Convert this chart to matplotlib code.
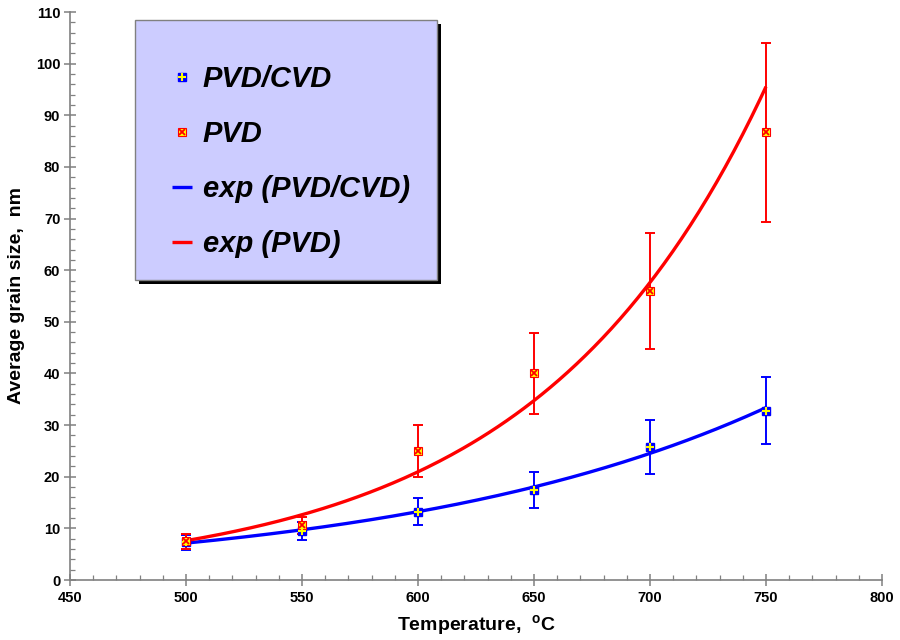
import numpy as np
import matplotlib
matplotlib.use("Agg")
import matplotlib.pyplot as plt
from matplotlib.patches import Rectangle

plt.rcParams['font.family'] = ['Liberation Sans', 'DejaVu Sans']
plt.rcParams['mathtext.fontset'] = 'custom'
plt.rcParams['mathtext.rm'] = 'Liberation Sans:bold'

# ---- data ----
temperature = [500, 550, 600, 650, 700, 750]
pvdcvd_size = [7.3, 9.5, 13.2, 17.5, 25.8, 32.8]
pvdcvd_err = [1.4, 1.8, 2.6, 3.5, 5.2, 6.5]
pvd_size = [7.5, 10.6, 25.0, 40.0, 56.0, 86.7]
pvd_err = [1.5, 1.6, 5.1, 7.9, 11.2, 17.3]

x_ticks = [450, 500, 550, 600, 650, 700, 750, 800]
y_ticks = [0, 10, 20, 30, 40, 50, 60, 70, 80, 90, 100, 110]

BLUE = '#0000ff'
RED = '#ff0000'
YELLOW = '#ffff00'
GRAY = '#808080'

fig = plt.figure(figsize=(9, 6.4), dpi=100)
ax = fig.add_axes([70/900, 1-580/640, 812/900, 568/640])

T = np.array(temperature, dtype=float)
# exponential trendlines fitted to the data (log-linear least squares)
Tfit = np.linspace(500, 750, 200)
kb, lb = np.polyfit(T - 500, np.log(pvdcvd_size), 1)
kr, lr = np.polyfit(T - 500, np.log(pvd_size), 1)

ax.errorbar(T, pvdcvd_size, yerr=pvdcvd_err, fmt='none', ecolor=BLUE,
            elinewidth=1.4, capsize=3.5, capthick=1.4, zorder=2)
ax.errorbar(T, pvd_size, yerr=pvd_err, fmt='none', ecolor=RED,
            elinewidth=1.4, capsize=3.5, capthick=1.4, zorder=2)

bline, = ax.plot(Tfit, np.exp(lb + kb*(Tfit-500)), color=BLUE, lw=2.4,
                 zorder=3, solid_capstyle='butt')
rline, = ax.plot(Tfit, np.exp(lr + kr*(Tfit-500)), color=RED, lw=2.4,
                 zorder=3, solid_capstyle='butt')

bsq, = ax.plot(T, pvdcvd_size, ls='none', marker='s', ms=6, mfc=BLUE,
               mec=BLUE, zorder=4)
bpl, = ax.plot(T, pvdcvd_size, ls='none', marker='+', ms=6, mew=1.5,
               color=YELLOW, zorder=5)
rsq, = ax.plot(T, pvd_size, ls='none', marker='s', ms=6, mfc=YELLOW,
               mec=RED, mew=0.8, zorder=4)
rx, = ax.plot(T, pvd_size, ls='none', marker='x', ms=5, mew=1.3,
              color=RED, zorder=5)

ax.set_xlim(450, 800)
ax.set_ylim(0, 110)
ax.set_xticks(x_ticks)
ax.set_yticks(y_ticks)
ax.set_xticks(np.arange(450, 801, 10), minor=True)
ax.set_yticks(np.arange(0, 111, 2), minor=True)
for s in ['top', 'right']:
    ax.spines[s].set_visible(False)
for s in ['left', 'bottom']:
    ax.spines[s].set_color(GRAY)
    ax.spines[s].set_linewidth(1.2)
ax.tick_params(which='major', direction='inout', length=8, width=1.1,
               color=GRAY, labelsize=10.5, pad=3)
ax.tick_params(axis='x', which='major', pad=4)
ax.tick_params(which='minor', direction='in', length=3.5, width=0.9,
               color=GRAY)
for lab in ax.get_xticklabels() + ax.get_yticklabels():
    lab.set_fontweight('bold')

ax.set_xlabel(r'Temperature,  $^{\mathrm{o}}$C', fontsize=14,
              fontweight='bold', labelpad=6)
ax.set_ylabel('Average grain size,  nm', fontsize=14, fontweight='bold',
              labelpad=8)

# legend box with shadow
tf = fig.transFigure
shadow = Rectangle((139/900, 1-284/640), 302/900, 260/640, transform=tf,
                   facecolor='black', edgecolor='none', zorder=8,
                   clip_on=False)
box = Rectangle((135/900, 1-280/640), 302/900, 260/640, transform=tf,
                facecolor='#ccccff', edgecolor=GRAY, lw=1.0, zorder=9,
                clip_on=False)
ax.add_artist(shadow)
ax.add_artist(box)

leg = ax.legend([(bsq, bpl), (rsq, rx), bline, rline],
                ['PVD/CVD', 'PVD', 'exp (PVD/CVD)', 'exp (PVD)'],
                loc='upper left', bbox_to_anchor=(172/900, 1-65/640),
                bbox_transform=tf, frameon=False, borderpad=0,
                borderaxespad=0, handlelength=0.7, handletextpad=0.35,
                labelspacing=0.93, markerscale=0.85,
                prop={'size': 21, 'weight': 'bold', 'style': 'italic'})
leg.set_zorder(10)

fig.savefig('out.png', dpi=100)
